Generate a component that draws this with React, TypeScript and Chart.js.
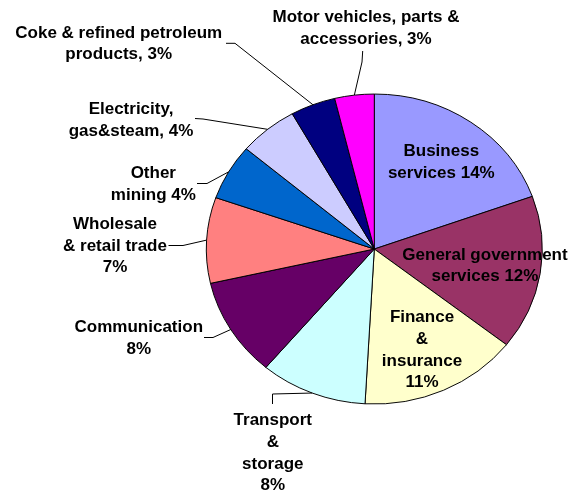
import React, { useEffect, useRef } from "react";
import { Chart, registerables } from "chart.js";

Chart.register(...registerables);

const categories = [
  "Business services",
  "General government services",
  "Finance & insurance",
  "Transport & storage",
  "Communication",
  "Wholesale & retail trade",
  "Other mining",
  "Electricity, gas&steam",
  "Coke & refined petroleum products",
  "Motor vehicles, parts & accessories",
];

const shares = [14.4, 11.9, 11.3, 7.6, 7.6, 6.6, 4.3, 4.2, 3.2, 2.8];

const sliceColors = [
  "#9999FF",
  "#993366",
  "#FFFFCC",
  "#CCFFFF",
  "#660066",
  "#FF8080",
  "#0066CC",
  "#CCCCFF",
  "#000080",
  "#FF00FF",
];

// label text lines; {v} is replaced by the rounded share
const labelLines = [
  ["Business", "services {v}%"],
  ["General government", "services {v}%"],
  ["Finance", "&", "insurance", "{v}%"],
  ["Transport", "&", "storage", "{v}%"],
  ["Communication", "{v}%"],
  ["Wholesale", "& retail trade", "{v}%"],
  ["Other", "mining {v}%"],
  ["Electricity,", "gas&steam, {v}%"],
  ["Coke & refined petroleum", "products, {v}%"],
  ["Motor vehicles, parts &", "accessories, {v}%"],
];

// layout: text centre x, first line y, leader start & elbow (null = inside label)
type Layout = { x: number; y: number; lead?: [number, number, number, number] };
const labelLayout: Layout[] = [
  { x: 441.3, y: 151.7 },
  { x: 485, y: 255 },
  { x: 422, y: 317.7 },
  { x: 272.8, y: 420.7, lead: [272.5, 404, 272.5, 394] },
  { x: 138.8, y: 327.7, lead: [204, 337.5, 213, 337.5] },
  { x: 115, y: 224.3, lead: [168.5, 245.5, 183, 245.5] },
  { x: 153.3, y: 173.8, lead: [197, 183.5, 207, 183.5] },
  { x: 131, y: 109.3, lead: [195, 118.5, 203, 119] },
  { x: 118.7, y: 33, lead: [226, 43.3, 235, 43.3] },
  { x: 366, y: 17.3, lead: [362.7, 51, 362, 62] },
];

const CX = 374.3;
const CY = 249.5;
const RX = 168;
const RY = 155;
const YK = RY / RX;
const LINE_H = 21.7;

const ellipsePlugin = {
  id: "ellipse",
  beforeDatasetsDraw(chart: any) {
    const ctx = chart.ctx;
    ctx.save();
    ctx.translate(CX, CY);
    ctx.scale(1, YK);
    ctx.translate(-CX, -CY);
  },
  afterDatasetsDraw(chart: any) {
    chart.ctx.restore();
  },
};

const labelPlugin = {
  id: "pieLabels",
  afterDraw(chart: any) {
    const ctx = chart.ctx;
    const meta = chart.getDatasetMeta(0);
    ctx.save();
    ctx.font = "bold 17px 'Liberation Sans', Arial, sans-serif";
    ctx.fillStyle = "#000";
    ctx.textAlign = "center";
    ctx.textBaseline = "middle";
    meta.data.forEach((arc: any, i: number) => {
      const lay = labelLayout[i];
      const v = Math.round(shares[i]);
      labelLines[i].forEach((ln, j) => {
        ctx.fillText(ln.replace("{v}", String(v)), lay.x, lay.y + j * LINE_H);
      });
      if (lay.lead) {
        const mid = (arc.startAngle + arc.endAngle) / 2;
        const ax = arc.x + RX * Math.cos(mid);
        const ay = arc.y + RY * Math.sin(mid);
        ctx.beginPath();
        ctx.strokeStyle = "#000";
        ctx.lineWidth = 1;
        ctx.moveTo(lay.lead[0], lay.lead[1]);
        ctx.lineTo(lay.lead[2], lay.lead[3]);
        ctx.lineTo(ax, ay);
        ctx.stroke();
      }
    });
    ctx.restore();
  },
};

export default function App() {
  const ref = useRef<HTMLCanvasElement>(null);
  useEffect(() => {
    if (!ref.current) return;
    const chart = new Chart(ref.current, {
      type: "pie",
      data: {
        labels: categories,
        datasets: [
          {
            data: shares,
            backgroundColor: sliceColors,
            borderColor: "#000",
            borderWidth: 1,
            radius: RX,
          } as any,
        ],
      },
      options: {
        responsive: false,
        animation: false,
        layout: { padding: { left: 200, right: 23.4, top: 60, bottom: 59 } },
        plugins: {
          legend: { display: false },
          tooltip: { enabled: false },
        },
      },
      plugins: [ellipsePlugin, labelPlugin],
    });
    return () => chart.destroy();
  }, []);
  return (
    <div style={{ position: "absolute", left: 0, top: 0, background: "#fff" }}>
      <canvas ref={ref} width={572} height={497} style={{ display: "block" }} />
    </div>
  );
}
